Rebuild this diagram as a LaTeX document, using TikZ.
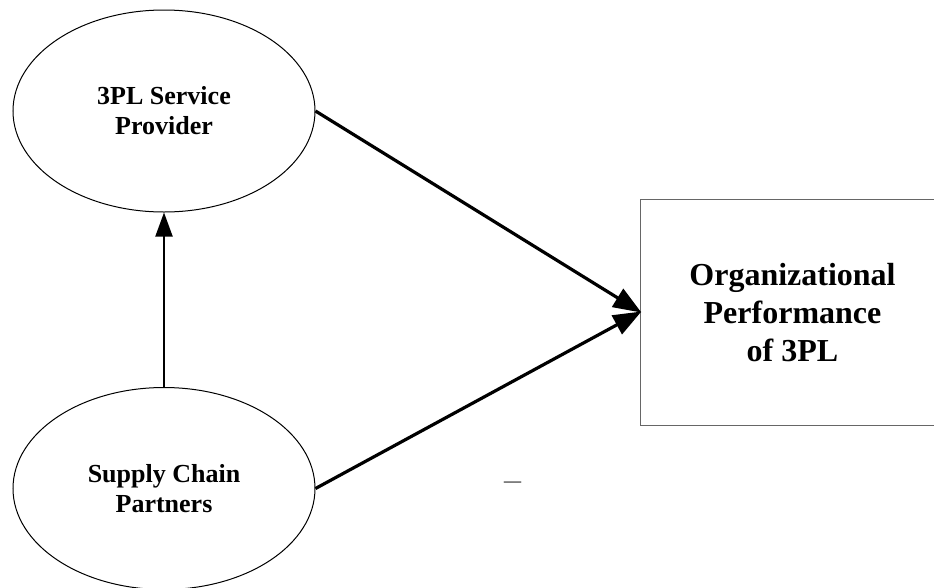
\documentclass[tikz,border=0pt]{standalone}
\usepackage{fontspec}
\setmainfont{Liberation Serif}
\usetikzlibrary{arrows.meta,shapes.geometric}
\begin{document}
\begin{tikzpicture}[x=1pt,y=-1pt,
  construct/.style={draw=black, line width=1pt, ellipse, minimum width=302pt, minimum height=202pt,
    inner sep=0pt, align=center, font=\fontsize{26}{30}\selectfont\bfseries},
  outcome/.style={rectangle, minimum width=304pt, minimum height=225.5pt,
    inner sep=0pt, align=center, font=\fontsize{32}{38}\selectfont\bfseries},
  boxedge/.style={draw=black!60, line width=1.2pt},
  linkarrow/.style={draw=black, line width=3.2pt, -{Triangle[length=28pt,width=21pt]}, shorten >=-1pt},
  uparrow/.style={draw=black, line width=2pt, -{Triangle[length=24pt,width=17pt]}},
]
\useasboundingbox (0,0) rectangle (934,587);
\node[construct] (sp) at (164,111) {3PL Service\\Provider};
\node[construct] (scp) at (164,488.5) {Supply Chain\\Partners};
\node[outcome] (op) at (792.5,312.25) {Organizational\\Performance\\of 3PL};
% the box runs on past the right edge of the page
\draw[boxedge] (op.north east) -- (op.north west) -- (op.south west) -- (op.south east);
\coordinate (tip) at (640.5,312);
\node[text=black!55, font=\fontsize{34}{34}\selectfont, inner sep=0pt] (dash) at (512.5,486) {–};
\draw[linkarrow] (sp.east) -- (tip);
\draw[linkarrow] (scp.east) -- (tip);
\draw[uparrow] (scp.north) -- (sp.south);
\end{tikzpicture}
\end{document}
